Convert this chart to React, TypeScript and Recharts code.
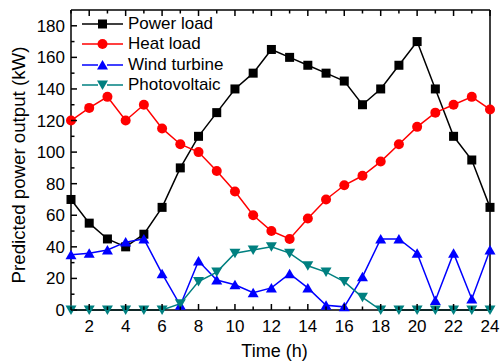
import { Legend, Line, LineChart, XAxis, YAxis } from "recharts";

const hours = [1, 2, 3, 4, 5, 6, 7, 8, 9, 10, 11, 12, 13, 14, 15, 16, 17, 18, 19, 20, 21, 22, 23, 24];
const powerLoad = [70, 55, 45, 40, 48, 65, 90, 110, 125, 140, 150, 165, 160, 155, 150, 145, 130, 140, 155, 170, 140, 110, 95, 65];
const heatLoad = [120, 128, 135, 120, 130, 115, 105, 100, 88, 75, 60, 50, 45, 58, 70, 79, 85, 94, 105, 116, 125, 130, 135, 127];
const windTurbine = [35, 36, 38, 43, 45, 23, 3, 31, 19, 16, 11, 14, 23, 14, 3, 2, 21, 45, 45, 36, 6, 36, 7, 38];
const photovoltaic = [0, 0, 0, 0, 0, 0, 4, 18, 24, 36, 38, 40, 36, 28, 24, 18, 8, 0, 0, 0, 0, 0, 0, 0];
const yTicks = [0, 10, 20, 30, 40, 50, 60, 70, 80, 90, 100, 110, 120, 130, 140, 150, 160, 170, 180];

const FONT = '"Liberation Sans", Arial, sans-serif';

type Shape = "square" | "circle" | "up" | "down";

const series: { key: string; name: string; color: string; shape: Shape }[] = [
  { key: "power", name: "Power load", color: "#000000", shape: "square" },
  { key: "heat", name: "Heat load", color: "#ff0000", shape: "circle" },
  { key: "wind", name: "Wind turbine", color: "#0000ff", shape: "up" },
  { key: "pv", name: "Photovoltaic", color: "#008080", shape: "down" },
];

const data = hours.map((h, i) => ({
  hour: h,
  power: powerLoad[i],
  heat: heatLoad[i],
  wind: windTurbine[i],
  pv: photovoltaic[i],
}));

function marker(shape: Shape, cx: number, cy: number, color: string, key?: string) {
  if (shape === "square") {
    return <rect key={key} x={cx - 4.5} y={cy - 4.5} width={9} height={9} fill={color} />;
  }
  if (shape === "circle") {
    return <circle key={key} cx={cx} cy={cy} r={5} fill={color} />;
  }
  if (shape === "up") {
    return <polygon key={key} points={`${cx - 5.5},${cy + 4.5} ${cx + 5.5},${cy + 4.5} ${cx},${cy - 5}`} fill={color} />;
  }
  return <polygon key={key} points={`${cx - 5.5},${cy - 4.5} ${cx + 5.5},${cy - 4.5} ${cx},${cy + 5}`} fill={color} />;
}

const makeDot = (shape: Shape, color: string) => (props: any) => {
  const { cx, cy, index } = props;
  if (cx == null || cy == null) return <g key={`e-${index}`} />;
  return marker(shape, cx, cy, color, `${shape}-${index}`);
};

function BottomTick({ x, y, payload }: any) {
  const major = payload.value % 2 === 0;
  return (
    <g>
      <line x1={x} x2={x} y1={y} y2={y - (major ? 6 : 3.5)} stroke="#000" strokeWidth={1.5} />
      {major && (
        <text x={x} y={y + 22} textAnchor="middle" fontSize={17} fontFamily={FONT} fill="#000">
          {payload.value}
        </text>
      )}
    </g>
  );
}

function TopTick({ x, y, payload }: any) {
  const major = payload.value % 2 === 0;
  return <line x1={x} x2={x} y1={y} y2={y + (major ? 6 : 3.5)} stroke="#000" strokeWidth={1.5} />;
}

function LeftTick({ x, y, payload }: any) {
  const major = payload.value % 20 === 0;
  return (
    <g>
      <line x1={x} x2={x + (major ? 6 : 3.5)} y1={y} y2={y} stroke="#000" strokeWidth={1.5} />
      {major && (
        <text x={x - 6} y={y + 6} textAnchor="end" fontSize={17} fontFamily={FONT} fill="#000">
          {payload.value}
        </text>
      )}
    </g>
  );
}

function RightTick({ x, y, payload }: any) {
  const major = payload.value % 20 === 0;
  return <line x1={x} x2={x - (major ? 6 : 3.5)} y1={y} y2={y} stroke="#000" strokeWidth={1.5} />;
}

function LegendContent() {
  return (
    <div style={{ fontFamily: FONT, fontSize: 17, color: "#000" }}>
      {series.map((s) => (
        <div key={s.key} style={{ display: "flex", alignItems: "center", height: 20.3 }}>
          <svg width={46} height={20} style={{ display: "block" }}>
            <line x1={0} x2={16} y1={10} y2={10} stroke={s.color} strokeWidth={1.5} />
            <line x1={25} x2={41} y1={10} y2={10} stroke={s.color} strokeWidth={1.5} />
            {marker(s.shape, 20.5, 10, s.color)}
          </svg>
          <span style={{ whiteSpace: "nowrap", lineHeight: "20px" }}>{s.name}</span>
        </div>
      ))}
    </div>
  );
}

export default function App() {
  return (
    <div style={{ position: "absolute", left: 0, top: 0, width: 500, height: 364, background: "#fff" }}>
      <LineChart width={500} height={364} data={data} margin={{ top: 0, right: 0, bottom: 0, left: 0 }}>
        <XAxis
          dataKey="hour"
          type="number"
          domain={[1, 24]}
          ticks={hours}
          interval={0}
          height={54}
          tickSize={0}
          tickMargin={0}
          tickLine={false}
          tick={<BottomTick />}
          axisLine={{ stroke: "#000", strokeWidth: 1.5 }}
          label={{
            value: "Time (h)",
            position: "insideBottom",
            offset: 7,
            dx: -6,
            style: { fontSize: 18, fontFamily: FONT, fill: "#000" },
          }}
        />
        <XAxis
          xAxisId="top"
          dataKey="hour"
          type="number"
          orientation="top"
          domain={[1, 24]}
          ticks={hours}
          interval={0}
          height={10}
          tickSize={0}
          tickMargin={0}
          tickLine={false}
          tick={<TopTick />}
          axisLine={{ stroke: "#000", strokeWidth: 1.5 }}
        />
        <YAxis
          type="number"
          domain={[0, 190]}
          ticks={yTicks}
          interval={0}
          width={71}
          tickSize={0}
          tickMargin={0}
          tickLine={false}
          tick={<LeftTick />}
          axisLine={{ stroke: "#000", strokeWidth: 1.5 }}
          label={{
            value: "Predicted power output (kW)",
            angle: -90,
            position: "center",
            dx: -17,
            dy: 5,
            style: { fontSize: 18.7, fontFamily: FONT, fill: "#000", textAnchor: "middle" },
          }}
        />
        <YAxis
          yAxisId="right"
          orientation="right"
          type="number"
          domain={[0, 190]}
          ticks={yTicks}
          interval={0}
          width={10}
          tickSize={0}
          tickMargin={0}
          tickLine={false}
          tick={<RightTick />}
          axisLine={{ stroke: "#000", strokeWidth: 1.5 }}
        />
        <Legend
          layout="horizontal"
          verticalAlign="middle"
          align="center"
          content={<LegendContent />}
          wrapperStyle={{ left: 82, top: 14, width: "auto", height: "auto" }}
        />
        {series.map((s) => (
          <Line
            key={s.key}
            dataKey={s.key}
            name={s.name}
            type="linear"
            stroke={s.color}
            strokeWidth={1.5}
            dot={makeDot(s.shape, s.color)}
            activeDot={false}
            isAnimationActive={false}
          />
        ))}
      </LineChart>
    </div>
  );
}
